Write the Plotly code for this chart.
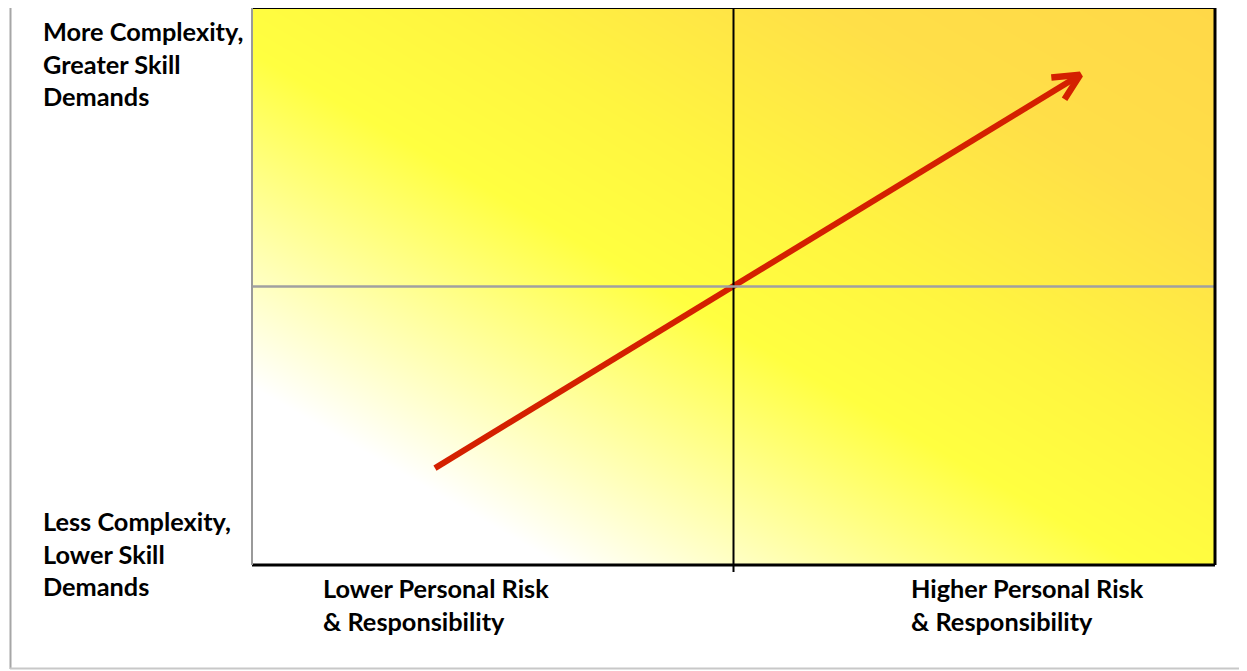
import math
import plotly.graph_objects as go

# ---- data ----
top_left_label = ["More Complexity,", "Greater Skill", "Demands"]
bottom_left_label = ["Less Complexity,", "Lower Skill", "Demands"]
x_low_label = ["Lower Personal Risk", "& Responsibility"]
x_high_label = ["Higher Personal Risk", "& Responsibility"]

divider_x = 0.5
divider_y = 0.5
arrow_x = [0.19, 0.86]
arrow_y = [0.174, 0.88]

# background gradient corner values (bilinear-interpolated by the heatmap)
grad_x = [0, 1]
grad_y = [0, 1]
grad_z = [[0.0, 0.5], [0.5, 1.0]]

# ---- layout geometry (window pixels; page body has an 8px margin) ----
OFF = 8
W, H = 1247 - OFF, 671 - OFF
L, R, T, B = 252, 1215, 8, 565  # window coordinates of the plot box
PW, PH = R - L, B - T


def px(x):
    return (x - L) / PW


def py(y):
    return (B - y) / PH


fig = go.Figure()

fig.add_trace(go.Heatmap(
    x=grad_x, y=grad_y, z=grad_z, zsmooth="best", showscale=False,
    hoverinfo="skip",
    colorscale=[[0.0, "#FFFFFF"], [0.16, "#FFFFFF"], [0.46, "#FFFF40"],
                [0.6, "#FFF540"], [0.8, "#FFDF48"], [1.0, "#FFD848"]],
    zmin=0, zmax=1,
))

red = "#D42000"
fig.add_trace(go.Scatter(x=arrow_x, y=arrow_y, mode="lines",
                         line=dict(color=red, width=6), hoverinfo="skip",
                         showlegend=False))

# open chevron arrow head, derived from the arrow endpoints in pixel space
x0p, y0p = L + arrow_x[0] * PW, B - arrow_y[0] * PH
x1p, y1p = L + arrow_x[1] * PW, B - arrow_y[1] * PH
ang = math.atan2(y0p - y1p, x0p - x1p)
arm = 29
spread = math.radians(26)
hx, hy = [], []
for s in (-1, 1):
    a = ang + s * spread
    hx.append(px(x1p + arm * math.cos(a)))
    hy.append(py(y1p + arm * math.sin(a)))
fig.add_trace(go.Scatter(x=[hx[0], arrow_x[1], hx[1]], y=[hy[0], arrow_y[1], hy[1]],
                         mode="lines", line=dict(color=red, width=6.5),
                         hoverinfo="skip", showlegend=False))

shapes = []
shapes.append(dict(type="line", xref="x", yref="paper", x0=divider_x, x1=divider_x,
                   y0=py(572), y1=1, line=dict(color="#000000", width=2)))
shapes.append(dict(type="line", xref="paper", yref="y", x0=0, x1=1,
                   y0=divider_y, y1=divider_y, line=dict(color="#A0A0A0", width=2.5)))
shapes.append(dict(type="line", xref="paper", yref="paper", x0=0, x1=1, y0=1, y1=1,
                   line=dict(color="#000000", width=2)))
shapes.append(dict(type="line", xref="paper", yref="paper", x0=1, x1=1, y0=0, y1=1,
                   line=dict(color="#000000", width=3)))
shapes.append(dict(type="line", xref="paper", yref="paper", x0=0, x1=1, y0=0, y1=0,
                   line=dict(color="#000000", width=3)))
shapes.append(dict(type="line", xref="paper", yref="paper", x0=0, x1=0, y0=0, y1=1,
                   line=dict(color="#9A9A9A", width=2)))
# page frame
shapes.append(dict(type="line", xref="paper", yref="paper", x0=px(10.5), x1=px(10.5),
                   y0=py(OFF), y1=py(669), line=dict(color="#A6A6A6", width=2)))
shapes.append(dict(type="line", xref="paper", yref="paper", x0=px(10), x1=px(1247),
                   y0=py(668.5), y1=py(668.5), line=dict(color="#C8C8C8", width=2)))

font = dict(family="Lato", size=25.3, color="#000000")
ann = []


def add_lines(lines, x_px, y_px_list):
    for t, yy in zip(lines, y_px_list):
        ann.append(dict(text="<b>%s</b>" % t, xref="paper", yref="paper",
                        x=px(x_px), y=py(yy), xanchor="left", yanchor="middle",
                        showarrow=False, font=font))


add_lines(top_left_label, 41, [31, 63.5, 96])
add_lines(bottom_left_label, 41, [521, 553.5, 586])
add_lines(x_low_label, 321, [588, 621])
add_lines(x_high_label, 909, [588, 621])

fig.update_layout(
    width=W, height=H,
    margin=dict(l=L - OFF, r=(W + OFF) - R, t=T - OFF, b=(H + OFF) - B),
    paper_bgcolor="rgba(0,0,0,0)", plot_bgcolor="rgba(0,0,0,0)",
    xaxis=dict(range=[0, 1], visible=False, fixedrange=True),
    yaxis=dict(range=[0, 1], visible=False, fixedrange=True),
    shapes=shapes, annotations=ann, showlegend=False,
)

fig.write_html("out.html", config={"displayModeBar": False})
